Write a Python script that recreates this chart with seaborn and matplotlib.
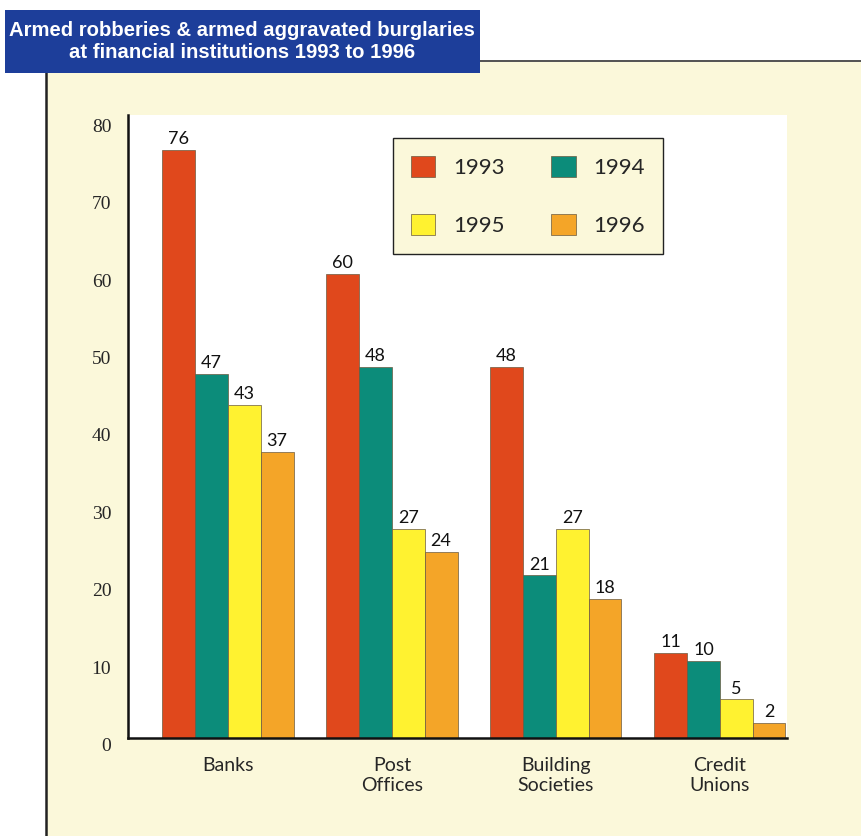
import seaborn as sns
import numpy as np
import pandas as pd
import matplotlib.pyplot as plt
from matplotlib.patches import Rectangle
from matplotlib.lines import Line2D

# data
institutions = ["Banks", "Post\nOffices", "Building\nSocieties", "Credit\nUnions"]
years = ["1993", "1994", "1995", "1996"]
counts_1993 = [76, 60, 48, 11]
counts_1994 = [47, 48, 21, 10]
counts_1995 = [43, 27, 27, 5]
counts_1996 = [37, 24, 18, 2]
yticks = [0, 10, 20, 30, 40, 50, 60, 70, 80]

colours = ["#E0481C", "#0C8C7A", "#FFF230", "#F4A528"]
cream = "#FBF8DA"
navy = "#1D3E9A"

df = pd.DataFrame({
    "institution": institutions * 4,
    "year": np.repeat(years, 4),
    "count": counts_1993 + counts_1994 + counts_1995 + counts_1996,
})

sns.set_style("white")
plt.rcParams["font.family"] = ["Lato", "DejaVu Sans"]

fig = plt.figure(figsize=(8.61, 8.36), dpi=100)
fig.patch.set_facecolor("white")

W, H = 861, 836
def fx(x):
    return x / W
def fy(y):
    return 1 - y / H

# cream panel with the black frame lines
fig.patches.append(Rectangle((fx(47), 0), 1 - fx(47), fy(62), transform=fig.transFigure,
                             facecolor=cream, edgecolor="none", zorder=-5))
fig.lines.append(Line2D([fx(46), fx(46)], [0, fy(72)], transform=fig.transFigure,
                        color="#222222", lw=1.8, zorder=-4))
fig.lines.append(Line2D([fx(478), 1], [fy(61), fy(61)], transform=fig.transFigure,
                        color="#444444", lw=1.3, zorder=-4))

# title box
fig.patches.append(Rectangle((fx(5), fy(73)), fx(475), fy(10) - fy(73), transform=fig.transFigure,
                             facecolor=navy, edgecolor="none", zorder=-3))
fig.text(fx(242), fy(41), "Armed robberies & armed aggravated burglaries\nat financial institutions 1993 to 1996",
         ha="center", va="center", color="white", fontsize=14.6, fontweight="bold",
         family=["Liberation Sans", "DejaVu Sans"], linespacing=1.2, zorder=3)

ax = fig.add_axes([fx(128), fy(738), fx(787) - fx(128), fy(115) - fy(738)])
ax.set_facecolor("white")
sns.barplot(data=df, x="institution", y="count", hue="year", palette=colours,
            width=0.8, edgecolor="#6a5a40", linewidth=0.5, saturation=1, ax=ax)

for cont in ax.containers:
    ax.bar_label(cont, padding=2, fontsize=13, color="#111111")

ax.set_xlim(-0.61, 3.41)
ax.set_ylim(0, 80.5)
ax.set_yticks(yticks)
ax.set_yticklabels([str(t) for t in yticks], family=["Liberation Serif", "DejaVu Serif"], fontsize=14)
ax.tick_params(axis="y", length=0, pad=12)
ax.tick_params(axis="x", length=0, pad=14, labelsize=14)
for lab in ax.get_yticklabels():
    lab.set_va("top")
ax.set_xlabel("")
ax.set_ylabel("")
for side in ["top", "right"]:
    ax.spines[side].set_visible(False)
for side in ["left", "bottom"]:
    ax.spines[side].set_color("#111111")
    ax.spines[side].set_linewidth(1.8)

handles, labels = ax.get_legend_handles_labels()
order = [0, 2, 1, 3]
leg = ax.legend([handles[i] for i in order], [labels[i] for i in order], ncol=2,
                loc="upper left", bbox_to_anchor=((393 - 128) / 659, 1 - (138 - 115) / 623),
                borderaxespad=0, frameon=True, fontsize=16, handlelength=1.1, handleheight=1.1,
                columnspacing=2.1, labelspacing=1.6, borderpad=0.8, handletextpad=0.8,
                fancybox=False)
leg.get_frame().set_facecolor(cream)
leg.get_frame().set_edgecolor("#222222")
leg.get_frame().set_linewidth(1.0)
leg.get_frame().set_alpha(1)

fig.savefig("out.png", dpi=100)
